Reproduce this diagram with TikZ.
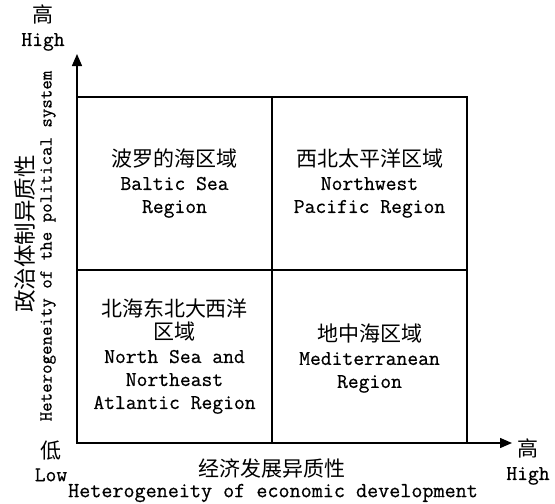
\documentclass[tikz,border=0pt]{standalone}
\usepackage{fontspec}
\setmainfont{Latin Modern Mono}[FakeBold=0.6]
\newfontfamily\cjk{Noto Sans CJK SC}
\usetikzlibrary{arrows.meta}
\begin{document}
\begin{tikzpicture}[x=1pt,y=-1pt,
  quad/.style={draw,line width=1.4pt,minimum width=195pt,minimum height=173pt,inner sep=0pt},
  txt/.style={inner sep=0pt,align=center,font=\fontsize{21}{23}\selectfont},
  axis/.style={line width=1.4pt,-{Triangle[length=12pt,width=10pt]}},
  lab/.style={inner sep=0pt,align=center,font=\fontsize{21}{23}\selectfont}]
\useasboundingbox (0,0) rectangle (555,504);
\newcommand{\zh}[1]{{\cjk\fontsize{21}{23}\selectfont #1}}
% quadrants
\node[quad] (tl) at (174.5,183.5) {};
\node[quad] (tr) at (369.5,183.5) {};
\node[quad] (bl) at (174.5,356.5) {};
\node[quad] (br) at (369.5,356.5) {};
\node[txt] (tlt) at (tl.center) {\zh{波罗的海区域}\\Baltic Sea\\Region};
\node[txt] (trt) at (tr.center) {\zh{西北太平洋区域}\\Northwest\\Pacific Region};
\node[txt] (blt) at (bl.center) {\zh{北海东北大西洋}\\\zh{区域}\\North Sea and\\Northeast\\Atlantic Region};
\node[txt,yshift=-2pt] (brt) at (br.center) {\zh{地中海区域}\\Mediterranean\\Region};
% axes
\coordinate (O) at (77,443);
\coordinate (ytip) at (77,54);
\coordinate (xtip) at (512,443);
\draw[axis] (O) -- (ytip);
\draw[axis] (O) -- (xtip);
% axis end labels
\node[lab] (yhigh) at (43,28) {\zh{高}\\High};
\node[lab] (low) at (51,461) {\zh{低}\\Low};
\node[lab] (xhigh) at (528,462) {\zh{高}\\High};
% axis titles
\node[lab] (xzh) at (272,469) {\zh{经济发展异质性}};
\node[lab,font=\fontsize{21.5}{23}\selectfont] (xen) at (273,493) {Heterogeneity of economic development};
\node[lab,rotate=90] (yzh) at (25,234) {{\cjk\fontsize{22.5}{23}\selectfont 政治体制异质性}};
\node[lab,rotate=90,font=\fontsize{18.4}{20}\selectfont] (yen) at (48,246) {Heterogeneity of the political system};
\end{tikzpicture}
\end{document}
